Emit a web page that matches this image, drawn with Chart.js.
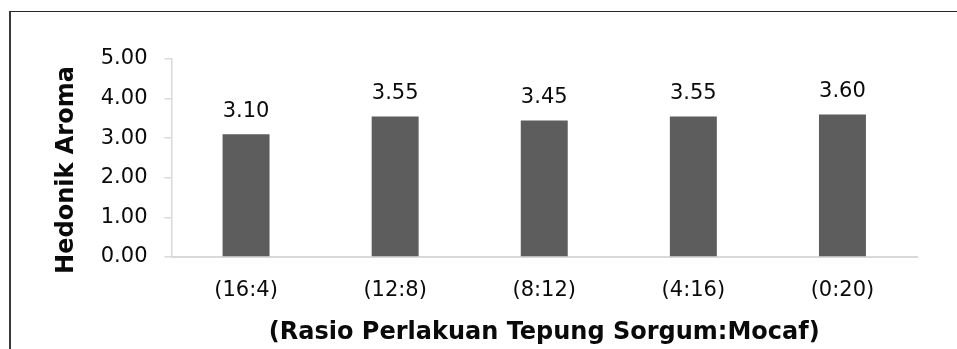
<!DOCTYPE html>
<html>
<head>
<meta charset="utf-8">
<script src="https://cdn.jsdelivr.net/npm/chart.js@4/dist/chart.umd.min.js"></script>
<style>
  html, body { margin: 0; padding: 0; background: #ffffff; }
  #wrap { position: relative; width: 957px; height: 349px; overflow: hidden; }
  #frame {
    position: absolute; left: 9px; top: 11px; width: 1000px; height: 400px;
    border-top: 1px solid #262626; border-left: 2px solid #3a3a3a;
    pointer-events: none;
  }
  canvas { display: block; }
</style>
</head>
<body>
<div id="wrap">
  <canvas id="chart" width="957" height="349"></canvas>
  <div id="frame"></div>
</div>
<script>
// Hedonic aroma scores per sorghum:mocaf flour ratio
const categories = ['(16:4)', '(12:8)', '(8:12)', '(4:16)', '(0:20)'];
const aromaScores = [3.10, 3.55, 3.45, 3.55, 3.60];
const yTicks = [0, 1, 2, 3, 4, 5];

const yTitle = 'Hedonik Aroma';
const xTitle = '(Rasio Perlakuan Tepung Sorgum:Mocaf)';

const textColor = '#0a0a0a';
const axisColor = '#d9d9d9';
const barColor = '#5d5d5d';
const tickFont = { family: '"DejaVu Sans", Verdana, sans-serif', size: 21 };
const titleFont = { family: '"DejaVu Sans", Verdana, sans-serif', size: 24, weight: 'bold' };

// Value labels above each bar
const valueLabels = {
  id: 'valueLabels',
  afterDatasetsDraw(chart) {
    const ctx = chart.ctx;
    const meta = chart.getDatasetMeta(0);
    ctx.save();
    ctx.font = `${tickFont.size}px ${tickFont.family}`;
    ctx.fillStyle = textColor;
    ctx.textAlign = 'center';
    ctx.textBaseline = 'alphabetic';
    meta.data.forEach((bar, i) => {
      ctx.fillText(aromaScores[i].toFixed(2), bar.x, bar.y - 17);
    });
    ctx.restore();
  }
};

// Rotated y-axis title, sitting left of the tick labels
const yAxisTitle = {
  id: 'yAxisTitle',
  afterDraw(chart) {
    const { ctx, chartArea } = chart;
    ctx.save();
    ctx.font = `bold ${titleFont.size}px ${titleFont.family}`;
    ctx.fillStyle = textColor;
    ctx.textAlign = 'center';
    ctx.textBaseline = 'middle';
    ctx.translate(chartArea.left - 105, (chartArea.top + chartArea.bottom) / 2 + 12);
    ctx.rotate(-Math.PI / 2);
    ctx.fillText(yTitle, 0, 0);
    ctx.restore();
  }
};

new Chart(document.getElementById('chart'), {
  type: 'bar',
  data: {
    labels: categories,
    datasets: [{
      data: aromaScores,
      backgroundColor: barColor,
      borderWidth: 0,
      barPercentage: 0.315,
      categoryPercentage: 1.0
    }]
  },
  options: {
    responsive: false,
    animation: false,
    devicePixelRatio: 1,
    layout: { padding: { top: 59, right: 40, bottom: 0, left: 0 } },
    plugins: {
      legend: { display: false },
      tooltip: { enabled: false }
    },
    scales: {
      x: {
        offset: true,
        grid: { display: true, drawOnChartArea: false, drawTicks: false },
        border: { display: true, color: axisColor, width: 2 },
        ticks: { color: textColor, font: tickFont, padding: 21 },
        title: { display: true, text: xTitle, color: textColor, font: titleFont, padding: { top: 4, bottom: 2 } },
        afterFit(scale) { scale.height = 92; }
      },
      y: {
        min: 0,
        max: 5,
        afterBuildTicks(scale) { scale.ticks = yTicks.map(v => ({ value: v })); },
        grid: { display: true, drawOnChartArea: false, drawTicks: true, tickLength: 7, color: axisColor, lineWidth: 1.5 },
        border: { display: true, color: axisColor, width: 1.5 },
        ticks: {
          color: textColor,
          font: tickFont,
          padding: 17,
          callback: v => Number(v).toFixed(2)
        },
        afterFit(scale) { scale.width = 171.5; }
      }
    }
  },
  plugins: [valueLabels, yAxisTitle]
});
</script>
</body>
</html>
